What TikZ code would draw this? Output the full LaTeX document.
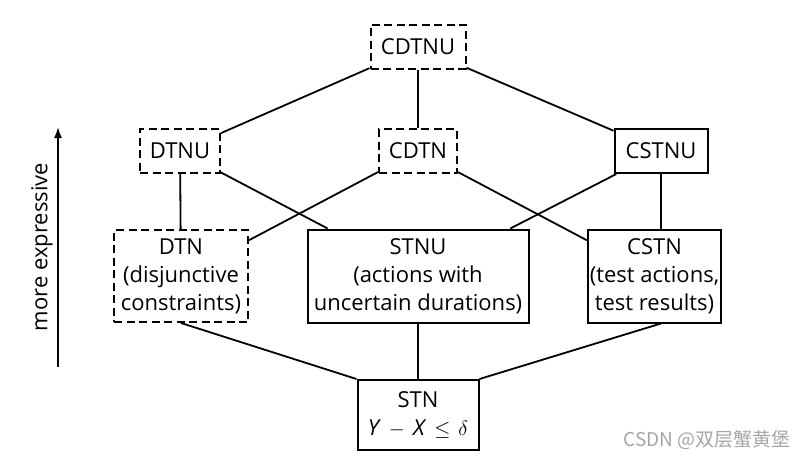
\documentclass[tikz,border=0pt]{standalone}
\usepackage{fontspec}
\setmainfont{Open Sans}
\newfontfamily\cjkfont{Noto Sans CJK SC}
\usetikzlibrary{arrows.meta}
\begin{document}
\begin{tikzpicture}[x=1pt,y=-1pt,
  box/.style={draw,line width=2pt,align=center,inner sep=0pt,
    font=\fontsize{22}{28}\selectfont},
  dbox/.style={box,dash pattern=on 8pt off 4.5pt},
  edge/.style={line width=1.8pt}]
\useasboundingbox (0,0) rectangle (809,460);
\node[dbox,minimum width=95pt,minimum height=44pt] (cdtnu) at (418,47) {CDTNU};
\node[dbox,minimum width=80pt,minimum height=44pt] (dtnu) at (180,151) {DTNU};
\node[dbox,minimum width=78pt,minimum height=44pt] (cdtn) at (418,151) {CDTN};
\node[box,minimum width=93pt,minimum height=44pt] (cstnu) at (661,151) {CSTNU};
\node[dbox,minimum width=134pt,minimum height=92pt] (dtn) at (181,276) {DTN\\(disjunctive\\constraints)};
\node[box,minimum width=221pt,minimum height=93pt] (stnu) at (418,276) {STNU\\(actions with\\uncertain durations)};
\node[box,minimum width=133pt,minimum height=93pt] (cstn) at (654.5,276) {CSTN\\(test actions,\\test results)};
\node[box,minimum width=121pt,minimum height=70pt] (stn) at (418,415) {STN\\\textit{Y}\hspace{8pt}$-$\hspace{8pt}\textit{X}\hspace{8pt}$\leq$\hspace{8pt}$\delta$};
\draw[edge] (cdtnu) -- (dtnu);
\draw[edge] (cdtnu) -- (cdtn);
\draw[edge] (cdtnu) -- (cstnu);
\draw[edge] (dtnu) -- (dtn);
\draw[edge] (dtnu) -- (stnu);
\draw[edge] (cdtn) -- (dtn);
\draw[edge] (cdtn) -- (cstn);
\draw[edge] (cstnu) -- (stnu);
\draw[edge] (cstnu.south) -- (cstnu.south |- cstn.north);
\draw[edge] (dtn.south) -- (stn.north west);
\draw[edge] (stnu) -- (stn);
\draw[edge] (cstnu.south |- cstn.south) -- (stn.north east);
\coordinate (abot) at (58,367);
\coordinate (atop) at (58,127);
\draw[edge,-{Latex[length=11pt,width=8pt]}] (abot) -- (atop);
\node[rotate=90,font=\fontsize{22}{28}\selectfont] (lbl) at (42,247) {more expressive};
\node[text=black!35,font=\cjkfont\fontsize{19}{22}\selectfont] (wm) at (707,440) {CSDN @双层蟹黄堡};
\end{tikzpicture}
\end{document}
